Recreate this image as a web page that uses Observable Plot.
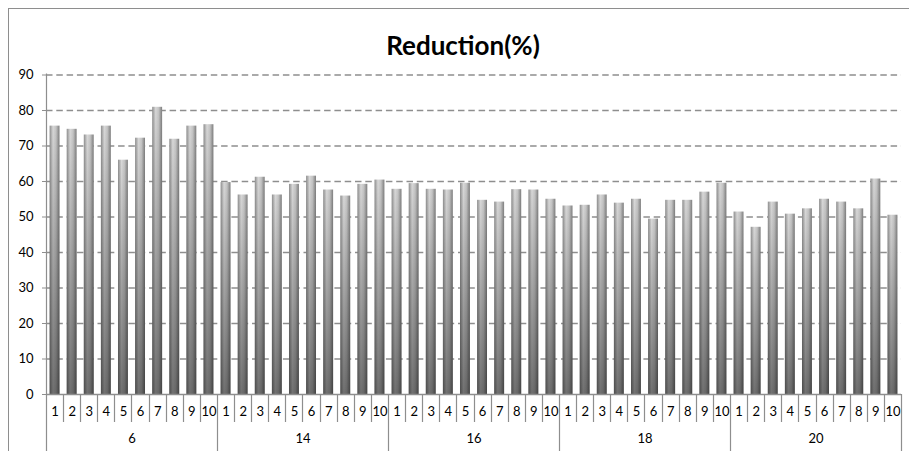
<!DOCTYPE html>
<html>
<head>
<meta charset="utf-8">
<script src="https://cdn.jsdelivr.net/npm/d3@7"></script>
<script src="https://cdn.jsdelivr.net/npm/@observablehq/plot@0.6"></script>
<style>
  html, body { margin: 0; padding: 0; background: #fff; overflow: hidden; width: 909px; height: 451px; }
  body { font-family: Lato, "Open Sans", sans-serif; color: #000; position: relative; }
  #box { position: absolute; left: 8px; top: 8px; width: 1200px; height: 1200px; border-left: 1px solid #8e8e8e; border-top: 1px solid #8e8e8e; }
  #title { position: absolute; left: 0; width: 926px; top: 30px; text-align: center; font-weight: bold; font-size: 26px; line-height: 30px; }
  #chart { position: absolute; left: 0; top: 62px; }
</style>
</head>
<body>
<svg width="0" height="0" style="position:absolute">
  <defs>
    <linearGradient id="cyl" x1="0" x2="1" y1="0" y2="0">
      <stop offset="0%" stop-color="#8e8e8e"/>
      <stop offset="35%" stop-color="#d8d8d8"/>
      <stop offset="65%" stop-color="#c4c4c4"/>
      <stop offset="100%" stop-color="#7e7e7e"/>
    </linearGradient>
    <linearGradient id="shade" x1="0" x2="0" y1="0" y2="1">
      <stop offset="0%" stop-color="#000" stop-opacity="0"/>
      <stop offset="100%" stop-color="#000" stop-opacity="0.48"/>
    </linearGradient>
  </defs>
</svg>
<div id="box"></div>
<div id="title">Reduction(%)</div>
<div id="chart"></div>
<script>
const groups = ["6", "14", "16", "18", "20"];
const runs = ["1", "2", "3", "4", "5", "6", "7", "8", "9", "10"];
const reduction6  = [75.6, 74.7, 73.1, 75.6, 66.0, 72.2, 80.9, 71.9, 75.6, 76.0];
const reduction14 = [59.7, 56.2, 61.2, 56.2, 59.2, 61.5, 57.6, 55.9, 59.2, 60.4];
const reduction16 = [57.8, 59.4, 57.8, 57.6, 59.5, 54.7, 54.2, 57.7, 57.6, 55.0];
const reduction18 = [53.1, 53.3, 56.2, 53.9, 55.0, 49.4, 54.7, 54.7, 57.0, 59.5];
const reduction20 = [51.4, 47.1, 54.2, 50.8, 52.3, 55.0, 54.2, 52.3, 60.7, 50.5];
const yTicks = [0, 10, 20, 30, 40, 50, 60, 70, 80, 90];

const series = [reduction6, reduction14, reduction16, reduction18, reduction20];
const rows = groups.flatMap((g, gi) => series[gi].map((v, i) => ({key: `${g}-${runs[i]}`, group: g, run: runs[i], value: v})));
const keys = rows.map(d => d.key);
const groupRows = groups.map(g => ({group: g, key: `${g}-5`}));

const W = 909, H = 389, ML = 46, MR = 8, MT = 12.5, MB = 57;
const step = (W - ML - MR) / keys.length;
const grey = "#8e8e8e";

const plot = Plot.plot({
  width: W, height: H,
  marginLeft: ML, marginRight: MR, marginTop: MT, marginBottom: MB,
  style: {fontFamily: "Lato, 'Open Sans', sans-serif", fontSize: "13px", color: "#000", background: "transparent"},
  x: {type: "band", domain: keys, paddingInner: 0.42, paddingOuter: 0.21, round: false, axis: null},
  y: {domain: [0, 90], axis: null},
  marks: [
    Plot.ruleY(yTicks.filter(t => t > 0), {stroke: grey, strokeWidth: 1.3, strokeDasharray: "6.5,3.8"}),
    Plot.barY(rows, {x: "key", y: "value", fill: "url(#cyl)"}),
    Plot.barY(rows, {x: "key", y: "value", fill: "url(#shade)"}),
    Plot.ruleY([0], {stroke: grey, strokeWidth: 1.3}),
    Plot.axisY({ticks: yTicks, tickSize: 4, tickPadding: 9, stroke: grey, fontSize: 13, label: null}),
    Plot.text(rows, {x: "key", text: "run", frameAnchor: "bottom", dy: 21, fontSize: 13, fill: "#000"}),
    Plot.text(groupRows, {x: "key", text: "group", frameAnchor: "bottom", dy: 48, dx: step / 2, fontSize: 13, fill: "#000"})
  ]
});
document.getElementById("chart").appendChild(plot);

// category and group separators drawn from Plot's scales
const xs = plot.scale("x"), ys = plot.scale("y");
const off = (xs.step - xs.bandwidth) / 2;
const svg = d3.select(plot);
const g = svg.append("g").attr("stroke", grey).attr("stroke-width", 1.2).attr("fill", "none");
const y0 = ys.apply(0);
keys.forEach((k, i) => {
  const x = Math.round(xs.apply(k) - off) + 0.5;
  const isGroupStart = i % runs.length === 0;
  g.append("line").attr("x1", x).attr("x2", x)
    .attr("y1", i === 0 ? ys.apply(90) - 1 : y0)
    .attr("y2", isGroupStart ? H : y0 + 28);
});
const xEnd = Math.round(xs.apply(keys[keys.length - 1]) + xs.bandwidth + off) + 0.5;
g.append("line").attr("x1", xEnd).attr("x2", xEnd).attr("y1", y0).attr("y2", H);
</script>
</body>
</html>
